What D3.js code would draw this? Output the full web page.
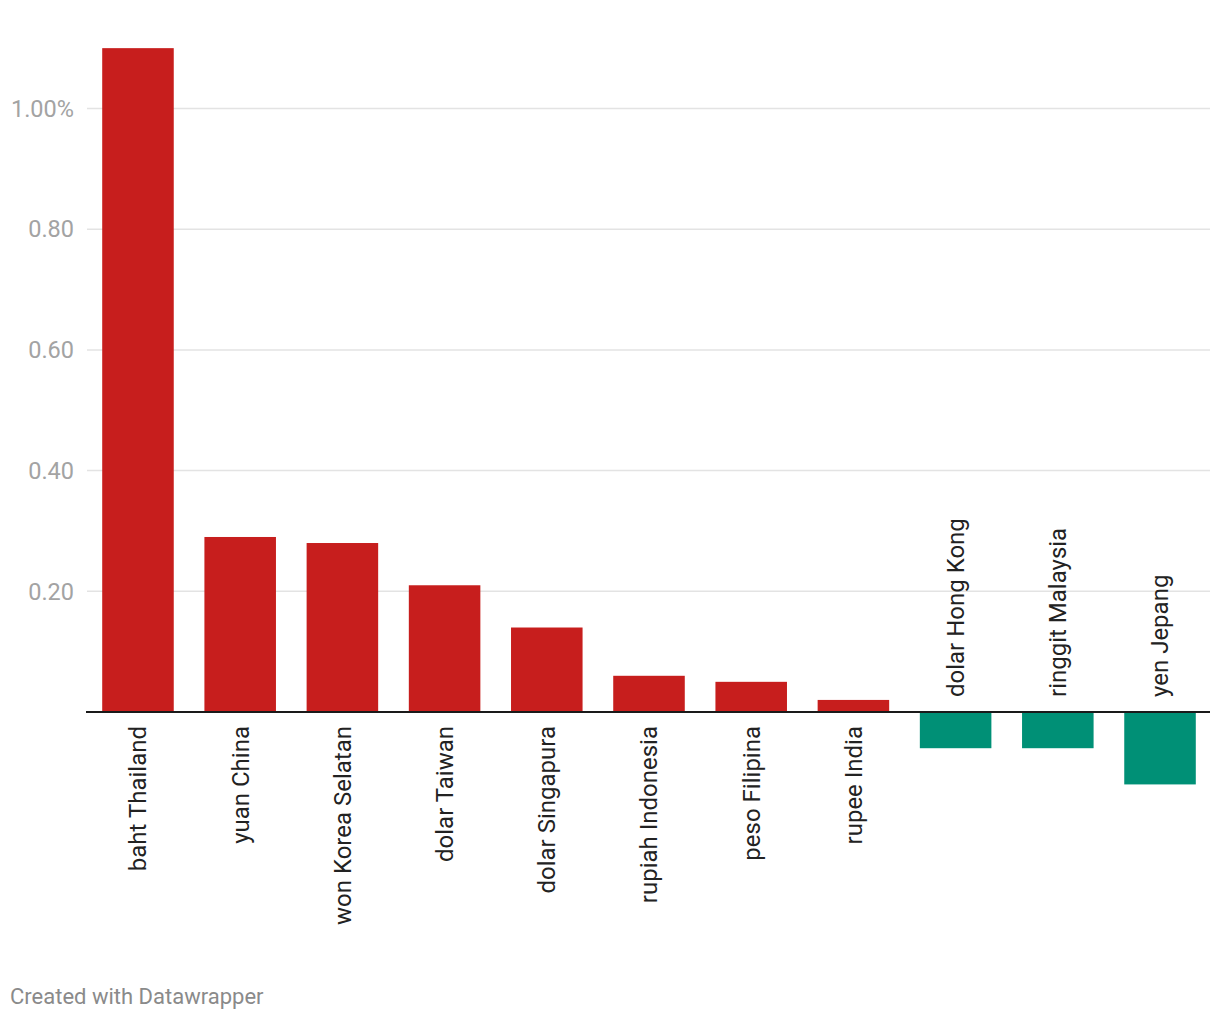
<!DOCTYPE html>
<html><head><meta charset="utf-8">
<script src="https://cdn.jsdelivr.net/npm/d3@7"></script>
<style>body{margin:0;background:#fff;font-family:Roboto,sans-serif}</style>
</head><body><svg id="c" width="1220" height="1020"></svg>
<script>
const categories = ["baht Thailand","yuan China","won Korea Selatan","dolar Taiwan","dolar Singapura","rupiah Indonesia","peso Filipina","rupee India","dolar Hong Kong","ringgit Malaysia","yen Jepang"];
const values = [1.10,0.29,0.28,0.21,0.14,0.06,0.05,0.02,-0.06,-0.06,-0.12];
const tickValues = [0.2,0.4,0.6,0.8,1.0];
const tickLabels = ["0.20","0.40","0.60","0.80","1.00%"];

const svg = d3.select("#c");
const x = d3.scaleBand().domain(categories).range([88,1210]).paddingInner(0.3).paddingOuter(0.139);
const y = d3.scaleLinear().domain([0,1]).range([712,108.5]);

const g = svg.append("g");
g.selectAll("line.grid").data(tickValues).join("line")
  .attr("x1",87).attr("x2",1210).attr("y1",d=>y(d)).attr("y2",d=>y(d))
  .attr("stroke","#e3e3e3").attr("stroke-width",1.5);
g.selectAll("text.tick").data(tickValues).join("text")
  .attr("x",74).attr("y",d=>y(d)).attr("text-anchor","end").attr("dy","0.35em")
  .attr("fill","#a3a3a3").style("font-size","23.5px").style("font-family","Roboto")
  .text((d,i)=>tickLabels[i]);

g.selectAll("rect").data(values).join("rect")
  .attr("x",(d,i)=>x(categories[i])).attr("width",x.bandwidth())
  .attr("y",d=>d>=0?y(d):y(0)).attr("height",d=>Math.abs(y(d)-y(0)))
  .attr("fill",d=>d>=0?"#c71e1d":"#009076");

g.append("line").attr("x1",86).attr("x2",1210).attr("y1",y(0)).attr("y2",y(0))
  .attr("stroke","#1a1a1a").attr("stroke-width",2);

g.selectAll("text.lab").data(values).join("text")
  .attr("transform",(d,i)=>{const cx=x(categories[i])+x.bandwidth()/2; const yy=d>=0?726:697; return `translate(${cx},${yy}) rotate(-90)`;})
  .attr("text-anchor",d=>d>=0?"end":"start").attr("dy","0.35em")
  .attr("fill","#222").style("font-size","24px").style("font-family","Roboto")
  .text((d,i)=>categories[i]);

svg.append("text").attr("x",10).attr("y",1004).attr("fill","#8a8a8a")
  .style("font-size","22px").style("font-family","Roboto").text("Created with Datawrapper");
</script></body></html>
